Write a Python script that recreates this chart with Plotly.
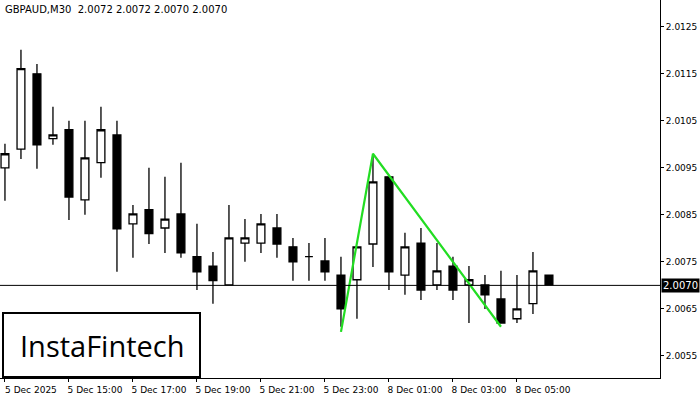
import plotly.graph_objects as go

idx = list(range(35))
opens  = [2.00950,2.00990,2.01150,2.01012,2.01031,2.00882,2.00961,2.01020,2.00831,2.00861,2.00822,2.00852,2.00761,2.00741,2.00701,2.00790,2.00790,2.00822,2.00782,2.00761,2.00752,2.00722,2.00712,2.00788,2.00931,2.00722,2.00790,2.00701,2.00741,2.00701,2.00701,2.00671,2.00629,2.00661,2.00722]
highs  = [2.01001,2.01201,2.01171,2.01080,2.01050,2.01050,2.01080,2.01050,2.00871,2.00950,2.00931,2.00961,2.00831,2.00771,2.00871,2.00841,2.00852,2.00852,2.00801,2.00790,2.00801,2.00761,2.00782,2.00978,2.00931,2.00812,2.00822,2.00790,2.00761,2.00741,2.00722,2.00731,2.00722,2.00771,2.00722]
lows   = [2.00880,2.00969,2.00948,2.00999,2.00839,2.00850,2.00929,2.00729,2.00759,2.00788,2.00769,2.00759,2.00690,2.00661,2.00701,2.00750,2.00769,2.00759,2.00710,2.00710,2.00710,2.00612,2.00629,2.00739,2.00690,2.00680,2.00669,2.00690,2.00669,2.00620,2.00650,2.00620,2.00620,2.00639,2.00701]
closes = [2.00980,2.01161,2.00999,2.01020,2.00888,2.00971,2.01031,2.00820,2.00852,2.00810,2.00841,2.00769,2.00729,2.00710,2.00801,2.00801,2.00831,2.00788,2.00750,2.00761,2.00729,2.00650,2.00782,2.00920,2.00729,2.00782,2.00690,2.00731,2.00690,2.00712,2.00680,2.00620,2.00650,2.00731,2.00701]

pattern_x = [21, 23, 31]
pattern_y = [2.00601, 2.00980, 2.00612]

xtick_vals = [0, 4, 8, 12, 16, 20, 24, 28, 32]
xtick_text = ["5 Dec 2025","5 Dec 15:00","5 Dec 17:00","5 Dec 19:00","5 Dec 21:00",
              "5 Dec 23:00","8 Dec 01:00","8 Dec 03:00","8 Dec 05:00"]
ytick_vals = [2.0055,2.0065,2.0075,2.0085,2.0095,2.0105,2.0115,2.0125]
last_price = 2.0070
title = "GBPAUD,M30  2.0072 2.0072 2.0070 2.0070"

fig = go.Figure()
fig.add_trace(go.Candlestick(
    x=idx, open=opens, high=highs, low=lows, close=closes,
    increasing=dict(fillcolor="white", line=dict(color="black", width=1.3)),
    decreasing=dict(fillcolor="black", line=dict(color="black", width=1.3)),
    whiskerwidth=0, showlegend=False, hoverinfo="skip"))
fig.add_trace(go.Scatter(x=pattern_x, y=pattern_y, mode="lines",
    line=dict(color="#22dd22", width=2.2), showlegend=False, hoverinfo="skip"))
fig.add_hline(y=last_price, line=dict(color="black", width=1))

fig.add_annotation(x=1, xref="paper", y=last_price, yref="y", xanchor="left",
    text="2.0070", showarrow=False, bgcolor="black", font=dict(color="white", size=10, family="DejaVu Sans"),
    xshift=1, borderpad=1)
fig.add_annotation(x=0.005, xref="paper", y=1, yref="paper", xanchor="left", yanchor="top",
    text=title, showarrow=False, font=dict(color="black", size=10, family="DejaVu Sans"), yshift=-2)
fig.add_shape(type="rect", xref="paper", yref="paper", x0=3/660, x1=200/660,
    y0=1/378, y1=65/378, line=dict(color="black", width=2), fillcolor="white")
fig.add_annotation(x=102/660, xref="paper", y=33/378, yref="paper", xanchor="center", yanchor="middle",
    text="InstaFintech", showarrow=False, font=dict(color="black", size=29, family="Open Sans", weight=500))

fig.update_layout(
    width=700, height=400, margin=dict(l=0, r=40, t=0, b=22, autoexpand=False),
    paper_bgcolor="white", plot_bgcolor="white",
    xaxis=dict(range=[-0.31, 40.94], rangeslider=dict(visible=False), tickvals=xtick_vals,
        ticktext=xtick_text, ticks="outside", ticklen=3, tickcolor="black",
        showgrid=False, zeroline=False, showline=True, linecolor="black", mirror=True,
        tickfont=dict(size=9, family="DejaVu Sans", color="black"), ticklabelshift=26),
    yaxis=dict(range=[2.00503, 2.01307], side="right", tickvals=ytick_vals, tickformat=".4f",
        ticks="outside", ticklen=3, tickcolor="black", showgrid=False, zeroline=False,
        showline=True, linecolor="black", mirror=True,
        tickfont=dict(size=9, family="DejaVu Sans", color="black")),
)
fig.write_html("out.html", config={"displayModeBar": False},
               post_script="document.body.style.margin='0';")
